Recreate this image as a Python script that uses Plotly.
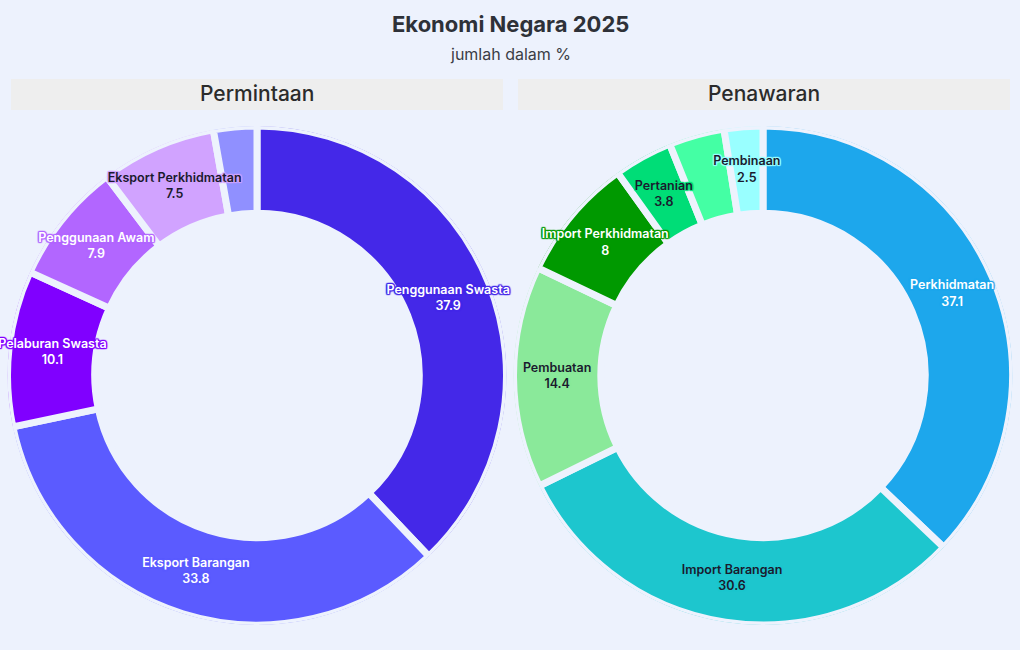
import plotly.graph_objects as go

BG = "#EDF2FD"
FONT = "Inter"

# Permintaan (demand)
dem_labels = ["Penggunaan Swasta", "Eksport Barangan", "Pelaburan Swasta",
              "Penggunaan Awam", "Eksport Perkhidmatan", "Pelaburan Awam"]
dem_values = [37.9, 33.8, 10.1, 7.9, 7.5, 2.8]
dem_show = [True, True, True, True, True, False]
dem_colors = ["#4428E8", "#5B5BFF", "#8000FF", "#B266FF", "#D1A3FF", "#9090FF"]
dem_text_colors = ["#FFFFFF", "#FFFFFF", "#FFFFFF", "#FFFFFF", "#1A1A2E", "#1A1A2E"]

# Penawaran (supply)
sup_labels = ["Perkhidmatan", "Import Barangan", "Pembuatan", "Import Perkhidmatan",
              "Pertanian", "Perlombongan", "Pembinaan"]
sup_values = [37.1, 30.6, 14.4, 8, 3.8, 3.6, 2.5]
sup_show = [True, True, True, True, True, False, True]
sup_colors = ["#1DA7EC", "#1DC6CE", "#8AE99A", "#009900", "#00DD77", "#44FFA4", "#99FFFF"]
sup_text_colors = ["#FFFFFF", "#1A1A2E", "#1A1A2E", "#FFFFFF", "#1A1A2E", "#1A1A2E", "#1A1A2E"]

HOLE = 0.65
W, H = 1020, 650
MT, MB = 126, 25
PH = H - MT - MB


def outline(c):
    return (f"1px 1px 1px {c}, -1px -1px 1px {c}, 1px -1px 1px {c}, -1px 1px 1px {c}, "
            f"0px 1px 1px {c}, 1px 0px 1px {c}, 0px -1px 1px {c}, -1px 0px 1px {c}")


def donut(fig, labels, values, show, colors, tcolors, polar_id):
    total = sum(values)
    widths, mids = [], []
    acc = 0.0
    for v in values:
        w = v / total * 360.0
        widths.append(w)
        mids.append(acc + w / 2)
        acc += w
    fig.add_trace(go.Barpolar(
        theta=mids, width=widths, r=[1 - HOLE] * len(values), base=[HOLE] * len(values),
        marker=dict(color=colors, line=dict(color=BG, width=7)),
        customdata=list(zip(labels, values)),
        hovertemplate="%{customdata[0]}: %{customdata[1]}<extra></extra>",
        subplot=polar_id, showlegend=False,
    ))
    texts = [f"{l}<br>{v:g}" if s else "" for l, v, s in zip(labels, values, show)]
    tf = dict(family=FONT, size=12.5, color=tcolors, weight=600)
    try:
        go.Scatterpolar(textfont=dict(shadow=["none", "none"]))
        tf["shadow"] = [outline(c) for c in colors]
    except Exception:
        tf["shadow"] = "none"
    fig.add_trace(go.Scatterpolar(
        theta=mids, r=[(1 + HOLE) / 2] * len(values), text=texts, mode="text",
        textposition="middle center", textfont=tf, hoverinfo="skip",
        subplot=polar_id, showlegend=False,
    ))


fig = go.Figure()
donut(fig, dem_labels, dem_values, dem_show, dem_colors, dem_text_colors, "polar")
donut(fig, sup_labels, sup_values, sup_show, sup_colors, sup_text_colors, "polar2")

polar_common = dict(
    bgcolor="rgba(0,0,0,0)",
    radialaxis=dict(range=[0, 1], visible=False),
    angularaxis=dict(direction="clockwise", rotation=90, visible=False),
    bargap=0,
)


def px_x(p):
    return p / W


def px_y(p):
    return (H - MB - p) / PH


shapes = []
annotations = []
for x0, x1, title in [(11, 503, "Permintaan"), (518, 1010, "Penawaran")]:
    shapes.append(dict(type="rect", xref="paper", yref="paper", x0=px_x(x0), x1=px_x(x1),
                       y0=px_y(110), y1=px_y(79), fillcolor="#EEEEEE", line=dict(width=0),
                       layer="below"))
    annotations.append(dict(text=title, xref="paper", yref="paper", x=px_x((x0 + x1) / 2),
                            y=px_y(94), showarrow=False, xanchor="center", yanchor="middle",
                            font=dict(family=FONT, size=21, color="#2B2B2B", weight=500)))

annotations.append(dict(text="<b>Ekonomi Negara 2025</b>", xref="paper", yref="paper",
                        x=0.5, y=px_y(24), showarrow=False, xanchor="center", yanchor="middle",
                        font=dict(family=FONT, size=22, color="#2E3138")))
annotations.append(dict(text="jumlah dalam %", xref="paper", yref="paper",
                        x=0.5, y=px_y(54), showarrow=False, xanchor="center", yanchor="middle",
                        font=dict(family=FONT, size=16, color="#3A3D45")))

fig.update_layout(
    width=W, height=H,
    margin=dict(l=0, r=0, t=MT, b=MB),
    paper_bgcolor=BG, plot_bgcolor=BG,
    font=dict(family=FONT, color="#2E3138"),
    polar=dict(domain=dict(x=[px_x(7.5), px_x(506.5)], y=[0, 1]), **polar_common),
    polar2=dict(domain=dict(x=[px_x(513.5), px_x(1012.5)], y=[0, 1]), **polar_common),
    shapes=shapes, annotations=annotations,
)

fig.write_html("out.html")
